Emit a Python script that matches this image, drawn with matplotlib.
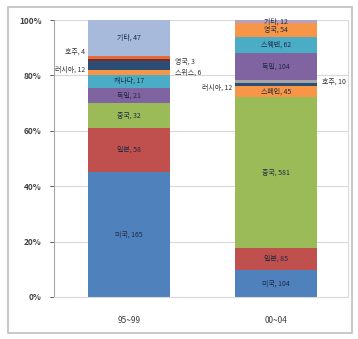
import matplotlib
matplotlib.use("Agg")
import matplotlib.pyplot as plt
from matplotlib.patches import Rectangle
from matplotlib.ticker import PercentFormatter

plt.rcParams['font.family'] = ['Noto Sans CJK KR', 'DejaVu Sans']

periods = ["95~99", "00~04"]

# 1995~1999 segments, bottom to top
p1_names = ["미국", "일본", "중국", "독일", "캐나다", "스위스", "러시아", "영국", "호주", "기타"]
p1_values = [165, 58, 32, 21, 17, 6, 12, 3, 4, 47]
p1_colors = ["#4F81BD", "#C0504D", "#9BBB59", "#8064A2", "#4BACC6", "#F79646",
             "#2C4D75", "#772C2A", "#E46C3A", "#A7BADC"]
p1_place = ["in", "in", "in", "in", "in", "right", "left", "right", "left", "in"]

# 2000~2004 segments, bottom to top
p2_names = ["미국", "일본", "중국", "스페인", "러시아", "호주", "독일", "스웨덴", "영국", "기타"]
p2_values = [104, 85, 581, 45, 12, 10, 104, 62, 54, 12]
p2_colors = ["#4F81BD", "#C0504D", "#9BBB59", "#F79646", "#2C4D75", "#A5A5A5",
             "#8064A2", "#4BACC6", "#F79646", "#B3A2C7"]
p2_place = ["in", "in", "in", "in", "left", "right", "in", "in", "in", "in"]

# outside label anchor heights (share of bar) for small segments
p1_out_y = {"스위스": 0.809, "러시아": 0.82, "영국": 0.848, "호주": 0.884}
p2_out_y = {"러시아": 0.755, "호주": 0.776}

fig = plt.figure(figsize=(3.58, 3.39), dpi=100)
fig.patches.append(Rectangle((8 / 358, 1 - 333 / 339), 344 / 358, 326 / 339,
                             transform=fig.transFigure, fill=False,
                             edgecolor="#BFBFBF", linewidth=1.2))
ax = fig.add_axes([54 / 358, 1 - 297 / 339, 294 / 358, 277 / 339])

bar_w = 0.56
for xi, (names, vals, cols, place, out_y) in enumerate([
        (p1_names, p1_values, p1_colors, p1_place, p1_out_y),
        (p2_names, p2_values, p2_colors, p2_place, p2_out_y)]):
    total = sum(vals)
    bottom = 0.0
    for n, v, c, pl in zip(names, vals, cols, place):
        share = v / total
        ax.bar(xi, share, bottom=bottom, width=bar_w, color=c,
               edgecolor="none", zorder=2)
        label = f"{n}, {v}"
        if pl == "in":
            ax.text(xi, bottom + share / 2, label, ha="center", va="center",
                    fontsize=5, color="#1F2A44", zorder=3)
        elif pl == "left":
            ax.text(xi - bar_w / 2 - 0.02, out_y[n], label, ha="right",
                    va="center", fontsize=5, color="#333333", zorder=3)
        else:
            ax.text(xi + bar_w / 2 + 0.03, out_y[n], label, ha="left",
                    va="center", fontsize=5, color="#333333", zorder=3)
        bottom += share

ax.set_xlim(-0.51, 1.49)
ax.set_ylim(0, 1)
ax.set_yticks([0, 0.2, 0.4, 0.6, 0.8, 1.0])
ax.yaxis.set_major_formatter(PercentFormatter(1.0, decimals=0))
ax.set_xticks([0, 1])
ax.set_xticklabels(periods)
ax.tick_params(axis="y", labelsize=6, colors="#404040", length=3, width=0.6,
               pad=6)
ax.tick_params(axis="x", labelsize=6, colors="#404040", length=0, pad=14)
for lbl in ax.get_yticklabels():
    lbl.set_fontweight("bold")
ax.grid(axis="y", color="#D9D9D9", linewidth=0.8, zorder=0)
ax.set_axisbelow(True)
for side in ("top",):
    ax.spines[side].set_visible(False)
ax.spines["left"].set_color("#A6A6A6")
ax.spines["bottom"].set_color("#D9D9D9")
ax.spines["right"].set_color("#D9D9D9")

fig.savefig("out.png", dpi=100)
